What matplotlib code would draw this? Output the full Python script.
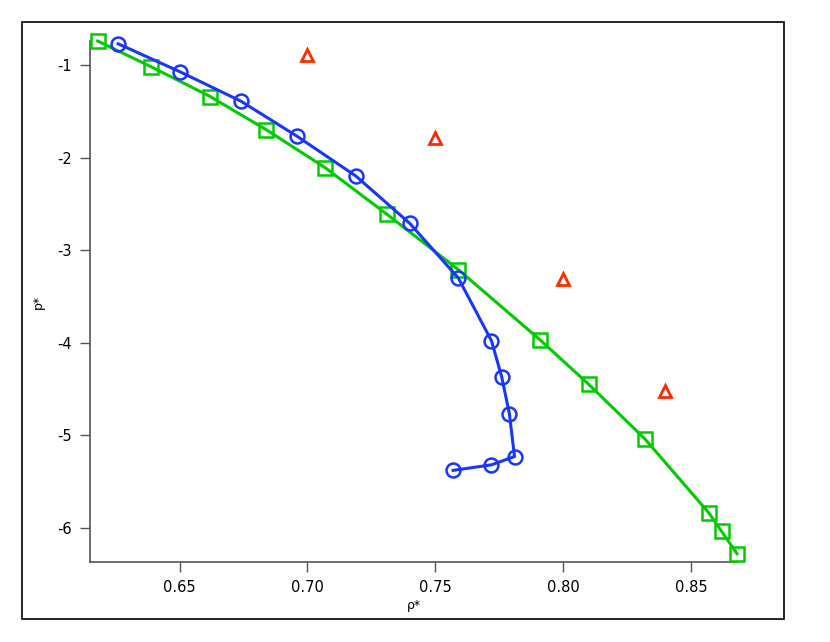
import matplotlib.pyplot as plt
from matplotlib.patches import Rectangle

plt.rcParams['axes.unicode_minus'] = False

# green squares
rho_sq = [0.618, 0.639, 0.662, 0.684, 0.707, 0.731, 0.759, 0.791, 0.810, 0.832, 0.857, 0.862, 0.868]
p_sq = [-0.74, -1.02, -1.34, -1.70, -2.11, -2.61, -3.21, -3.97, -4.45, -5.04, -5.84, -6.04, -6.28]

# blue circles
rho_ci = [0.626, 0.650, 0.674, 0.696, 0.719, 0.740, 0.759, 0.772, 0.776, 0.779, 0.781, 0.772, 0.757]
p_ci = [-0.77, -1.07, -1.39, -1.77, -2.20, -2.71, -3.30, -3.98, -4.37, -4.77, -5.23, -5.32, -5.38]

# red triangles
rho_tri = [0.70, 0.75, 0.80, 0.84]
p_tri = [-0.89, -1.79, -3.31, -4.52]

fig = plt.figure(figsize=(8.3, 6.42), dpi=100)
fig.patches.append(Rectangle((22 / 830, 23 / 642), 762 / 830, 597 / 642, transform=fig.transFigure,
                             fill=False, edgecolor='black', linewidth=1.2))
ax = fig.add_axes([90 / 830, 80 / 642, 647 / 830, 521 / 642])

ax.plot(rho_sq, p_sq, color='#00cc00', lw=2.2, marker='s', ms=10, mfc='none', mew=1.8, clip_on=False, zorder=3)
ax.plot(rho_ci, p_ci, color='#1a35ff', lw=2.2, marker='o', ms=10, mfc='none', mew=1.8, clip_on=False, zorder=4)
ax.plot(rho_tri, p_tri, ls='none', color='#ff2a00', marker='^', ms=9, mfc='none', mew=2, clip_on=False)

ax.set_xlim(0.615, 0.868)
ax.set_ylim(-6.37, -0.74)
ax.set_xticks([0.65, 0.70, 0.75, 0.80, 0.85])
ax.set_xticklabels(['0.65', '0.70', '0.75', '0.80', '0.85'])
ax.set_yticks([-1, -2, -3, -4, -5, -6])

for s in ['top', 'right']:
    ax.spines[s].set_visible(False)
for s in ['left', 'bottom']:
    ax.spines[s].set_color('#555555')
    ax.spines[s].set_linewidth(1.2)
ax.tick_params(direction='out', length=7, width=1, color='#555555', labelsize=10.5, pad=6)

ax.set_xlabel('ρ*', fontsize=9, labelpad=3)
ax.set_ylabel('p*', fontsize=9, labelpad=9)

plt.savefig('out.png', dpi=100)
